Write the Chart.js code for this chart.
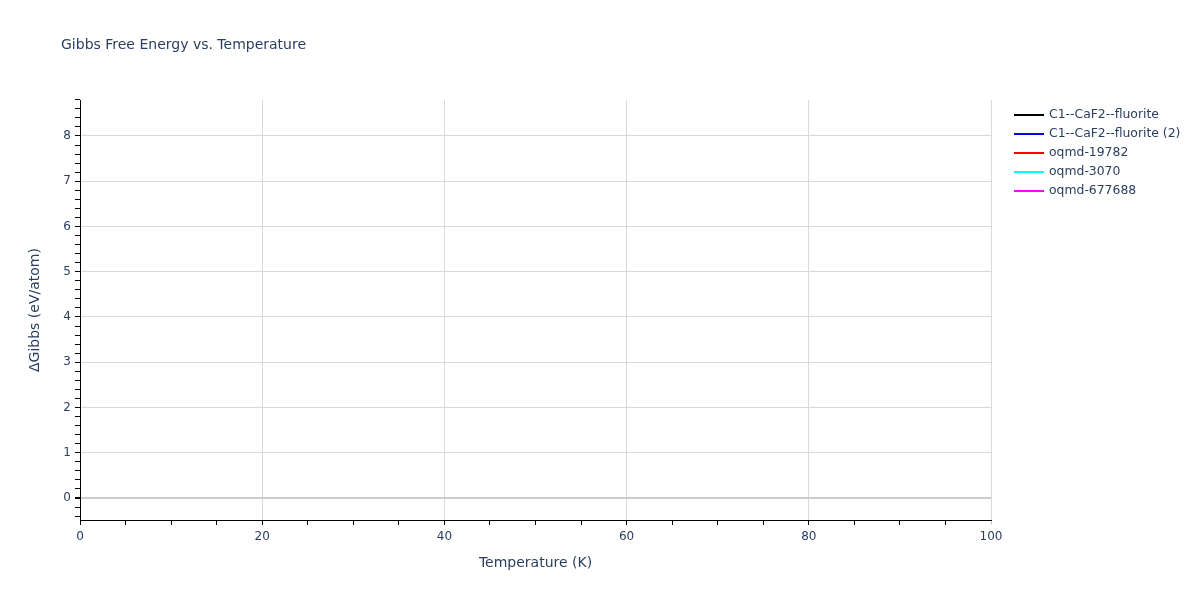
<!DOCTYPE html>
<html>
<head>
<meta charset="utf-8">
<script src="https://cdn.jsdelivr.net/npm/chart.js@4/dist/chart.umd.min.js"></script>
<style>
  html, body { margin: 0; padding: 0; background: #fff; }
  #wrap { width: 1200px; height: 600px; position: relative; }
</style>
</head>
<body>
<div id="wrap"><canvas id="gibbsChart"></canvas></div>
<script>
// Datos: no hay trazas visibles dentro del rango mostrado
const temperatures = [];
const seriesNames = ['C1--CaF2--fluorite', 'C1--CaF2--fluorite (2)', 'oqmd-19782', 'oqmd-3070', 'oqmd-677688'];
const seriesColors = ['#000000', '#0000ff', '#ff0000', '#00ffff', '#ff00ff'];
const seriesValues = [[], [], [], [], []];

const xMajorTicks = [0, 20, 40, 60, 80, 100];
const yMajorTicks = [0, 1, 2, 3, 4, 5, 6, 7, 8];

const TEXT_COLOR = '#2a3f5f';
const FONT = '"DejaVu Sans", Verdana, Arial, sans-serif';

// Titulo y leyenda dibujados a mano (posiciones fijas)
const extrasPlugin = {
    id: 'extras',
    afterDraw(chart) {
        const ctx = chart.ctx;
        ctx.save();
        ctx.fillStyle = TEXT_COLOR;
        ctx.font = '14px ' + FONT;
        ctx.textBaseline = 'middle';
        ctx.textAlign = 'left';
        ctx.fillText('Gibbs Free Energy vs. Temperature', 61, 45);

        ctx.font = '12.4px ' + FONT;
        chart.data.datasets.forEach((ds, i) => {
            const y = 115 + i * 19;
            ctx.strokeStyle = ds.borderColor;
            ctx.lineWidth = 2;
            ctx.beginPath();
            ctx.moveTo(1014, y);
            ctx.lineTo(1044, y);
            ctx.stroke();
            ctx.fillStyle = TEXT_COLOR;
            ctx.fillText(ds.label, 1049, y);
        });
        ctx.restore();
    }
};

const datasets = seriesNames.map((name, i) => ({
    label: name,
    data: seriesValues[i].map((v, j) => ({ x: temperatures[j], y: v })),
    borderColor: seriesColors[i],
    backgroundColor: seriesColors[i],
    borderWidth: 2,
    pointRadius: 0,
    fill: false
}));

const isMultiple = (v, m) => Math.abs(v / m - Math.round(v / m)) < 1e-6;

new Chart(document.getElementById('gibbsChart'), {
    type: 'line',
    data: { datasets },
    options: {
        responsive: true,
        maintainAspectRatio: false,
        animation: false,
        layout: { padding: { left: 0, right: 209, top: 100, bottom: 0 } },
        plugins: {
            legend: { display: false },
            title: { display: false },
            tooltip: { enabled: false }
        },
        scales: {
            x: {
                type: 'linear',
                min: 0,
                max: 100,
                afterBuildTicks(scale) {
                    const t = [];
                    for (let v = 0; v <= 100; v += 5) t.push({ value: v });
                    scale.ticks = t;
                },
                afterFit(scale) { scale.height = 80; },
                border: { display: true, color: '#000', width: 1 },
                grid: {
                    drawTicks: true,
                    tickLength: 5,
                    color: c => (xMajorTicks.includes(c.tick.value) && c.tick.value !== 0 ? '#d9d9d9' : 'rgba(0,0,0,0)'),
                    tickColor: c => (c.tick.value === 100 ? '#cccccc' : '#000'),
                    lineWidth: 1
                },
                ticks: {
                    autoSkip: false,
                    maxRotation: 0,
                    padding: 5,
                    color: TEXT_COLOR,
                    font: { family: FONT, size: 12 },
                    callback: v => (xMajorTicks.includes(v) ? String(v) : '')
                },
                title: {
                    display: true,
                    text: 'Temperature (K)',
                    color: TEXT_COLOR,
                    font: { family: FONT, size: 14 },
                    padding: { top: 0, bottom: 28 }
                }
            },
            y: {
                type: 'linear',
                min: -0.486,
                max: 8.795,
                afterBuildTicks(scale) {
                    const t = [];
                    for (let k = -2; k <= 44; k++) t.push({ value: Math.round(k * 0.2 * 10) / 10 });
                    scale.ticks = t;
                },
                afterFit(scale) { scale.width = 80; },
                border: { display: true, color: '#000', width: 1 },
                grid: {
                    drawTicks: true,
                    tickLength: 5,
                    color: c => {
                        const v = c.tick.value;
                        if (v === 0) return '#cccccc';
                        return isMultiple(v, 1) ? '#d9d9d9' : 'rgba(0,0,0,0)';
                    },
                    lineWidth: c => (c.tick.value === 0 ? 2 : 1),
                    tickColor: '#000'
                },
                ticks: {
                    autoSkip: false,
                    padding: 4,
                    color: TEXT_COLOR,
                    font: { family: FONT, size: 12 },
                    callback: v => (yMajorTicks.some(m => Math.abs(m - v) < 1e-6) ? String(Math.round(v)) : '')
                },
                title: {
                    display: true,
                    text: 'ΔGibbs (eV/atom)',
                    color: TEXT_COLOR,
                    font: { family: FONT, size: 14 },
                    padding: { top: 27, bottom: 0 }
                }
            }
        }
    },
    plugins: [extrasPlugin]
});
</script>
</body>
</html>
